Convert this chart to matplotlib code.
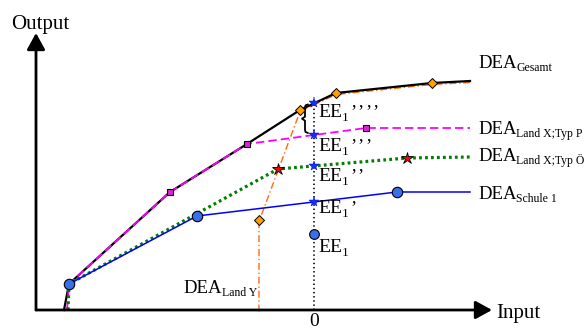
import numpy as np
import matplotlib
matplotlib.use("Agg")
import matplotlib.pyplot as plt
from matplotlib import transforms

plt.rcParams['font.family'] = ['Liberation Serif', 'DejaVu Serif']
plt.rcParams['lines.scale_dashes'] = False

# ---- data (input on x, output on y) ----
gesamt_x = [28, 33, 134, 211, 264, 300, 396, 434]
gesamt_y = [0, 26, 118, 166, 200, 217, 227, 229]

typP_x = [31, 33, 134, 211, 330, 434]
typP_y = [0, 26, 118, 166, 182, 182]
typP_mx = [134, 211, 330]
typP_my = [118, 166, 182]

typO_x = [32, 33, 242, 371, 434]
typO_y = [0, 26, 141, 152, 153]
typO_mx = [242, 371]
typO_my = [141, 152]

schule_x = [33, 161, 361, 434]
schule_y = [26, 94, 118, 118]
schule_mx = [33, 161, 361]
schule_my = [26, 94, 118]

landY_x = [223, 223, 264, 300, 396, 434]
landY_y = [0, 90, 200, 217, 227, 229]
landY_mx = [223, 264, 300, 396]
landY_my = [90, 200, 217, 227]

ee_x = 278
ee_y = 76

labels_right = ['Gesamt', 'Land X;Typ P', 'Land X;Typ Ö', 'Schule 1']
labels_right_y = [242, 176, 149, 111]
ee_primes = [4, 3, 2, 1, 0]
ee_label_y = [193, 159, 129, 97, 58]

fig = plt.figure(figsize=(5.87, 3.29), dpi=100)
ax = fig.add_axes([0, 0, 1, 1])
ax.set_xlim(-36, 551)
ax.set_ylim(-19, 310)
ax.axis('off')

# axes arrows
arrow = dict(arrowstyle='-|>,head_length=0.4,head_width=0.22', mutation_scale=25,
             lw=2, color='black', shrinkA=0, shrinkB=0)
ax.annotate('', xy=(456, 0), xytext=(0, 0), arrowprops=arrow, zorder=6)
ax.annotate('', xy=(0, 277), xytext=(0, 0), arrowprops=arrow, zorder=6)

# vertical dotted line at EE1
ax.plot([ee_x, ee_x], [0, 213], color='black', lw=1.2, linestyle=(0, (1, 2)), zorder=2)

# orange (Land Y), slightly below black
off = transforms.offset_copy(ax.transData, fig=fig, x=0, y=-1.5, units='dots')
ax.plot(landY_x, landY_y, color='#FF6A10', lw=1.0, linestyle=(0, (5, 2, 1, 2)),
        transform=off, zorder=2)
# black (Gesamt)
ax.plot(gesamt_x, gesamt_y, color='black', lw=1.6, zorder=3)
# magenta
ax.plot(typP_x, typP_y, color='#FF00FF', lw=1.3, linestyle=(0, (6, 3)), zorder=3)
# green
ax.plot(typO_x, typO_y, color='#008000', lw=2.3, linestyle=(0, (2, 2.3)), zorder=3)
# blue
ax.plot(schule_x, schule_y, color='#0000FF', lw=1.1, zorder=3)

# markers
ax.plot(landY_mx, landY_my, 'D', ms=5, mfc='#FFA000', mec='black', mew=0.7, zorder=5)
ax.plot(typP_mx, typP_my, 's', ms=5, mfc='#E020E0', mec='black', mew=0.8, zorder=5)
ax.plot(typO_mx, typO_my, '*', ms=9, mfc='#FF0000', mec='black', mew=0.6, zorder=5)
ax.plot(schule_mx, schule_my, 'o', ms=7.5, mfc='#3A6EEA', mec='black', mew=0.8, zorder=5)
ax.plot([ee_x], [ee_y], 'o', ms=7, mfc='#3A6EEA', mec='black', mew=0.8, zorder=5)

# intersections with vertical line
ys_int = [np.interp(ee_x, schule_x, schule_y), np.interp(ee_x, typO_x, typO_y),
          np.interp(ee_x, typP_x, typP_y), np.interp(ee_x, gesamt_x, gesamt_y)]
ax.plot([ee_x] * 4, ys_int, '*', ms=7, mfc='#1030FF', mec='#0000AA', mew=0.3, zorder=6)

# brace between EE1'''' and EE1'''
top, bot = ys_int[3] - 1, ys_int[2] + 2
mid = (top + bot) / 2
bx = ee_x - 9
ax.plot([bx + 3, bx + 0.5, bx, bx, bx - 3, bx, bx, bx + 0.5, bx + 3],
        [top, top - 1, top - 3, mid + 2, mid, mid - 2, bot + 3, bot + 1, bot],
        color='black', lw=1.3, zorder=4, solid_capstyle='round', solid_joinstyle='round')

# text
ax.text(4, 281, 'Output', fontsize=15, ha='center', va='baseline')
ax.text(460, -8, 'Input', fontsize=15, ha='left', va='baseline')
ax.text(ee_x, -16.5, '0', fontsize=14, ha='center', va='baseline')


def dea_label(x, y, sub, fs=13.5, sfs=8.5):
    t = ax.text(x, y, 'DEA', fontsize=fs, ha='left', va='baseline')
    ax.annotate(sub, xy=(1, y - 3), xycoords=(t, 'data'), fontsize=sfs,
                ha='left', va='baseline')


for lab, yy in zip(labels_right, labels_right_y):
    dea_label(442, yy, lab)
dea_label(147, 17, 'Land Y')

for n, yy in zip(ee_primes, ee_label_y):
    t = ax.text(282, yy, 'EE', fontsize=14, ha='left', va='baseline')
    prev = ax.annotate('1', xy=(1, yy - 4), xycoords=(t, 'data'), fontsize=9.5,
                       ha='left', va='baseline')
    for k in range(n):
        prev = ax.annotate('’', xy=(1, yy), xycoords=(prev, 'data'), fontsize=13,
                           xytext=(1.2 if k == 0 else 0.9, 0), textcoords='offset points',
                           ha='left', va='baseline')

fig.savefig('out.png', dpi=100)
